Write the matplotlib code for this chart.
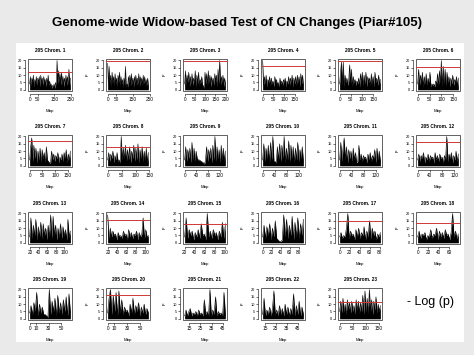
import matplotlib.pyplot as plt
import numpy as np
from matplotlib.patches import Rectangle

plt.rcParams['font.family'] = ['Liberation Sans', 'DejaVu Sans']

# per-chromosome -log(p) traces (0-20 scale)
c1 = [4,9,3,8,5,10,2,7,4,9,3,8,5,9,2,10,4,8,3,9,5,7,2,8,4,10,3,6,2,4,1,3,2,4,1,5,3,20,4,13,5,11,3,12,4,9,2,8,5,10,3,9,4,14,3,8]
c2 = [18,3,16,4,10,2,12,5,9,3,11,4,8,2,10,5,12,3,9,4,7,2,8,3,16,2,4,2,9,5,10,3,11,4,8,2,9,5,10,3,8,4,11,2,9,5,8,3,10,4,9,2,7,3,8,2]
c3 = [4,13,3,10,5,12,2,9,4,11,3,8,5,13,2,10,4,12,3,7,5,9,2,3,1,12,4,11,3,13,5,10,2,9,4,8,3,11,5,10,2,14,4,20,3,9,5,10,2,8,4]
c4 = [20,3,9,4,10,2,7,5,9,3,8,4,6,2,9,5,7,3,5,2,8,4,6,3,7,5,8,2,6,4,9,3,8,5,10,2,8,4,9,3,10,5,9,2,11,4,10,3]
c5 = [4,12,19,3,19,2,10,5,8,3,6,17,4,14,2,9,5,7,3,6,4,8,2,11,5,12,3,10,4,12,2,9,5,8,3,11,4,9,2,12,5,8,3,10,4,7]
c6 = [4,14,3,10,5,12,2,9,4,11,3,8,5,12,2,4,3,4,2,6,4,11,3,13,5,20,2,16,4,14,3,12,5,9,2,8,4,10,3,7,5,9,2,8]
c7 = [4,13,19,3,14,5,12,2,10,4,12,3,11,5,9,2,13,4,3,2,2,10,4,8,3,7,5,9,2,6,4,8,3,9,5,11,2,8,4,10]
c8 = [4,9,3,8,5,10,2,7,4,9,3,4,2,20,4,12,5,14,3,11,4,13,2,10,5,14,3,12,4,15,2,11,5,13,3,10,4,12,2,9]
c9 = [4,13,3,11,5,12,2,16,4,12,3,10,5,4,4,3.5,3,2.5,2,1,4,13,3,11,5,12,2,14,4,20,3,13,5,11,2,14,4,12,3,10]
c10 = [4,15,3,12,5,14,2,16,4,20,3,3,2,13,4,15,3,14,5,20,2,12,4,17,3,14,5,13,2,12,4,16,3,11,5,13,3]
c11 = [4,16,3,12,19,4,13,2,11,5,10,3,12,4,9,2,3,14,4,8,3,7,5,6,2,8,4,9,3,7,5,11,2,12,4,10,3]
c12 = [4,8,3,7,5,9,2,6,4,8,3,7,5,6,2,9,4,7,3,8,5,6,2,7,4,20,3,8,5,9,2,7,4,10,3,8]
c13 = [4,17,3,12,5,16,2,11,4,14,3,13,5,10,2,12,4,19,3,18,5,12,2,10,4,13,3,11,5,9,2,16,4,8]
c14 = [19,3,10,4,8,5,6,2,7,4,5,3,8,5,6,2,9,4,7,3,6,5,8,2,7,4,6,17,3,9,4,5]
c15 = [4,17,3,9,5,8,2,7,4,9,3,13,5,6,2,20,4,8,3,9,5,7,2,8,4,14,3,13]
c16 = [4,12,3,11,5,13,2,10,4,15,3,2,1,1,2,19,4,16,3,12,5,18,2,14,4,17,3,13,5,16]
c17 = [4,7,3,5,4,10,20,3,8,5,6,2,9,4,10,3,7,5,11,2,8,4,15,3,10,5,8,2,6,4,7]
c18 = [4,8,3,6,5,7,2,5,4,9,3,6,5,10,2,8,4,7,3,9,5,6,2,7,20,4,8,3,6]
c19 = [4,9,3,11,5,18,2,10,4,8,3,3,2,1,20,3,12,5,14,2,16,4,11,3,13,5,15,2,17,4]
c20 = [4,14,20,3,16,5,18,2,19,4,13,3,8,5,6,2,10,4,14,3,9,5,11,2,8,4,10,3,7,4]
c21 = [2,6,2,5,7,2,4,3,5,2,6,3,4,2,13,3,5,2,20,2,6,3,15,2,5,3,4,2,18,3]
c22 = [3,14,2,6,3,8,2,7,19,3,6,2,9,3,7,2,10,3,8,2,7,3,17,2,9,3,12,2,8,3]
c23 = [5,12,4,14,5,10,3,13,6,11,4,12,5,9,3,13,6,12,4,11,5,16,3,19,5,14,4,20,5,13,3,12,6,15,4,10,5,9]

traces = [c1, c2, c3, c4, c5, c6, c7, c8, c9, c10, c11, c12,
          c13, c14, c15, c16, c17, c18, c19, c20, c21, c22, c23]

# chromosome extent in Mbp
xstart = [0, 0, 0, 0, 0, 0, 0, 0, 0, 0, 0, 0, 18, 19, 20, 0, 0, 0, 0, 0, 11, 13, 0]
xend = [247, 243, 199, 191, 181, 171, 159, 146, 140, 135, 135, 133,
        114, 107, 101, 90, 81, 78, 64, 63, 47, 50, 155]
xticks = [[0, 50, 150, 250], [0, 50, 150, 250], [0, 50, 100, 150, 200],
          [0, 50, 100, 150], [0, 50, 100, 150], [0, 50, 100, 150],
          [0, 50, 100, 150], [0, 50, 100, 150], [0, 40, 80, 120],
          [0, 40, 80, 120], [0, 40, 80, 120], [0, 40, 80, 120],
          [20, 40, 60, 80, 100], [20, 40, 60, 80, 100], [20, 40, 60, 80, 100],
          [0, 20, 40, 60, 80], [0, 20, 40, 60, 80], [0, 20, 40, 60],
          [0, 10, 30, 50], [0, 10, 30, 50], [15, 25, 35, 45], [15, 25, 35, 45],
          [0, 50, 100, 150]]
# significance threshold (None = off the panel)
thresh = [12, 19.5, 19.5, 16.5, 19.5, 15.5, 17, 12.5, None, None, None, 16,
          None, 15.5, 12.5, None, 15, 13.5, None, 16, None, None, 11.5]

W, H = 474, 355
fig = plt.figure(figsize=(W / 100, H / 100), dpi=100, facecolor='#eaeaea')
fig.patches.append(Rectangle((16 / W, 1 - 342 / H), 448 / W, 299 / H,
                             transform=fig.transFigure, facecolor='white',
                             edgecolor='none', zorder=-10))

fig.text(0.5, 1 - 23 / H, 'Genome-wide Widow-based Test of CN Changes (Piar#105)',
         ha='center', va='center', fontsize=9.5, fontweight='bold')
fig.text(407 / W, 1 - 302 / H, '- Log (p)', ha='left', va='center', fontsize=9)

col_left = [28, 106, 183, 261, 338, 416]
row_top = [59, 135, 212, 288]
aw, ah = 44, 32

for i, vals in enumerate(traces):
    r, c = divmod(i, 6)
    ax = fig.add_axes([col_left[c] / W, 1 - (row_top[r] + ah) / H, aw / W, ah / H])
    x = np.linspace(xstart[i], xend[i], len(vals))
    ax.fill_between(x, 0, vals, color='black', lw=0)
    ax.plot(x, vals, color='black', lw=0.4)
    if thresh[i] is not None:
        ax.axhline(thresh[i], color='#d03838', lw=0.7)
    ax.set_ylim(-0.8, 21)
    ax.set_xlim(xstart[i] - 0.04 * (xend[i] - xstart[i]),
                xend[i] + 0.04 * (xend[i] - xstart[i]))
    ax.set_xticks(xticks[i])
    ax.set_yticks([0, 5, 10, 15, 20])
    ax.tick_params(labelsize=3.4, length=1.5, width=0.4, pad=1)
    ax.tick_params(axis='y', labelsize=2.8)
    for lab in ax.get_yticklabels():
        lab.set_rotation(90)
        lab.set_va('center')
    # R style: closed box plus detached axes
    ax.add_patch(Rectangle((0, 0), 1, 1, transform=ax.transAxes, fill=False,
                           lw=0.5, edgecolor='#222222', clip_on=False))
    for s in ['top', 'right']:
        ax.spines[s].set_visible(False)
    ax.spines['bottom'].set_position(('outward', 2))
    ax.spines['left'].set_position(('outward', 2))
    ax.spines['bottom'].set_bounds(xticks[i][0], xticks[i][-1])
    ax.spines['left'].set_bounds(0, 20)
    for s in ['bottom', 'left']:
        ax.spines[s].set_linewidth(0.4)
    ax.set_title('205 Chrom. %d' % (i + 1), fontsize=3.4, fontweight='bold', pad=5)
    ax.set_xlabel('Mbp', fontsize=3.2, labelpad=5)
    if c > 0:
        ax.set_ylabel('p', fontsize=3.2, labelpad=5)

fig.savefig('out.png', dpi=100, facecolor=fig.get_facecolor())
